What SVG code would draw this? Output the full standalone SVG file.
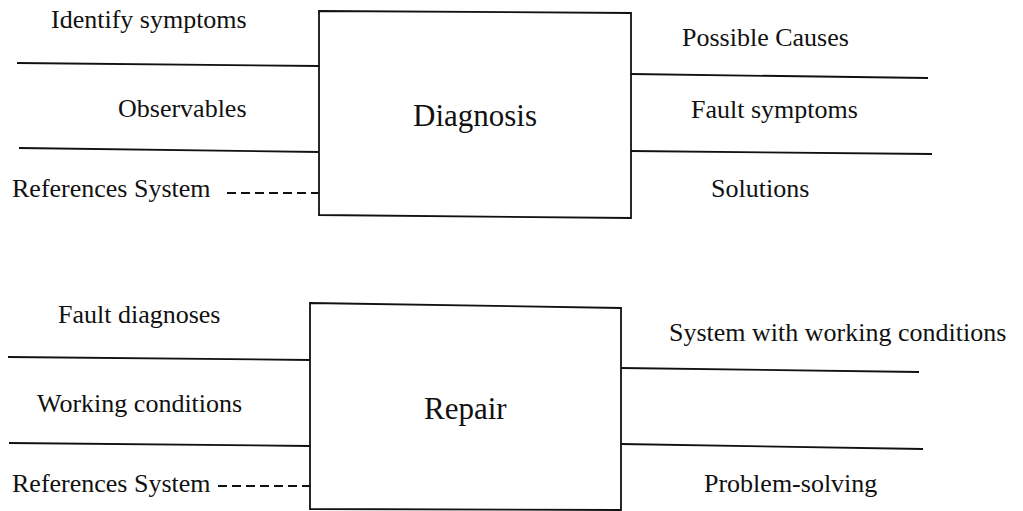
<svg xmlns="http://www.w3.org/2000/svg" width="1023" height="511" viewBox="0 0 1023 511">
  <style>
    .box { fill: #ffffff; stroke: #111111; stroke-width: 1.8; }
    .wire { fill: none; stroke: #111111; stroke-width: 1.8; }
    .dash { fill: none; stroke: #111111; stroke-width: 1.8; stroke-dasharray: 9 5; }
    .lbl { font-family: "Liberation Serif", "DejaVu Serif", "Times New Roman", serif; font-size: 26px; fill: #111111; }
    .title { font-family: "Liberation Serif", "DejaVu Serif", "Times New Roman", serif; font-size: 31px; fill: #111111; }
  </style>
  <rect width="1023" height="511" fill="#ffffff"/>

  <!-- input / output lines -->
  <g id="connectors">
    <!-- Diagnosis inputs -->
    <path class="wire" d="M17 63 L319 66"/>
    <path class="wire" d="M19 148 L319 152"/>
    <!-- Diagnosis outputs -->
    <path class="wire" d="M631 74 L928 78"/>
    <path class="wire" d="M631 151 L932 154"/>
    <!-- Repair inputs -->
    <path class="wire" d="M8 357 L310 360"/>
    <path class="wire" d="M9 443 L310 446"/>
    <!-- Repair outputs -->
    <path class="wire" d="M621 368 L919 372"/>
    <path class="wire" d="M621 444 L923 449"/>
  </g>

  <g id="diagnosis">
    <path class="box" d="M319 11 L631 13 L631 218 L319 215 Z"/>
    <text class="title" x="413" y="126">Diagnosis</text>
  </g>

  <g id="diagnosis-inputs">
    <text class="lbl" x="51" y="28">Identify symptoms</text>
    <text class="lbl" x="118" y="117">Observables</text>
    <text class="lbl" x="12" y="197">References System</text>
    <path class="dash" d="M227 193 L319 193"/>
  </g>

  <g id="diagnosis-outputs">
    <text class="lbl" x="682" y="46">Possible Causes</text>
    <text class="lbl" x="691" y="118">Fault symptoms</text>
    <text class="lbl" x="711" y="197">Solutions</text>
  </g>

  <g id="repair">
    <path class="box" d="M310 303 L621 308 L621 510 L310 509 Z"/>
    <text class="title" x="424" y="419">Repair</text>
  </g>

  <g id="repair-inputs">
    <text class="lbl" x="58" y="323">Fault diagnoses</text>
    <text class="lbl" x="37" y="412">Working conditions</text>
    <text class="lbl" x="12" y="492">References System</text>
    <path class="dash" d="M218 486 L310 486"/>
  </g>

  <g id="repair-outputs">
    <text class="lbl" x="669" y="341">System with working conditions</text>
    <text class="lbl" x="704" y="492">Problem-solving</text>
  </g>
</svg>
